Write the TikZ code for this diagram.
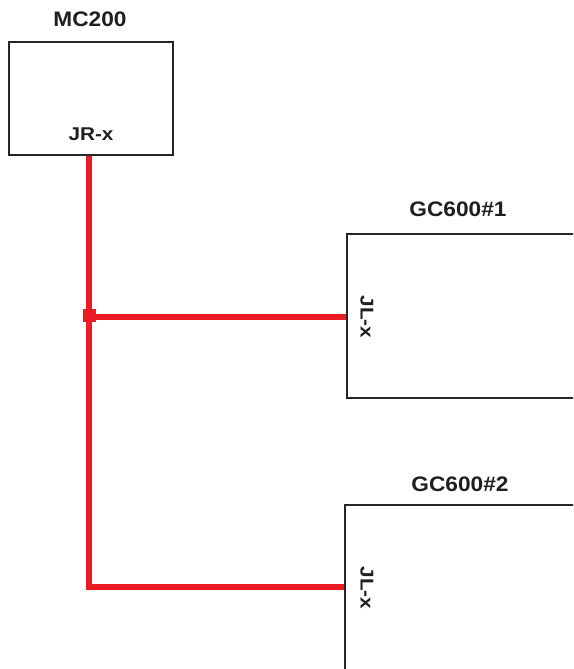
\documentclass[tikz,border=0pt]{standalone}
\usepackage{fontspec}
\newfontfamily\titlefont[FakeStretch=1.08]{Liberation Sans}
\newfontfamily\pinfont[FakeStretch=1.12]{Liberation Sans}
\definecolor{wire}{RGB}{237,28,36}
\begin{document}
\begin{tikzpicture}[x=1pt,y=-1pt,
  box/.style={draw=black!85,line width=2.6pt,fill=none,inner sep=0pt},
  title/.style={font=\titlefont\bfseries\fontsize{21}{21}\selectfont,text=black!88,inner sep=0pt},
  pin/.style={font=\pinfont\bfseries\fontsize{18.5}{18.5}\selectfont,text=black!88,inner sep=0pt},
  redline/.style={draw=wire,line width=5.4pt},
  dot/.style={fill=wire,minimum size=13pt,inner sep=0pt,draw=none}]
\useasboundingbox (0,0) rectangle (573,669);
\clip (0,0) rectangle (573,669);
% boxes
\node[box,minimum width=164pt,minimum height=113pt] (mc) at (91,98.5) {};
\node[box,minimum width=260pt,minimum height=164pt] (gc1) at (477,316) {};
\node[box,minimum width=260pt,minimum height=170pt] (gc2) at (475,590) {};
% titles
\node[title] (tmc) at (90,19) {MC200};
\node[title] (tgc1) at (458,209) {GC600\#1};
\node[title] (tgc2) at (460,484) {GC600\#2};
% pin labels
\node[pin] (jr) at (91,134) {JR-x};
\node[pin,rotate=-90] (jl1) at (367,317) {JL-x};
\node[pin,rotate=-90] (jl2) at (367,588) {JL-x};
% wiring
\coordinate (j) at (89,317);
\coordinate (b) at (89,587);
\draw[redline] (j |- mc.south) -- (j) -- (b) -- (b -| gc2.west);
\draw[redline] (j) -- (j -| gc1.west);
\node[dot] (jd) at (89,315) {};
\end{tikzpicture}
\end{document}
